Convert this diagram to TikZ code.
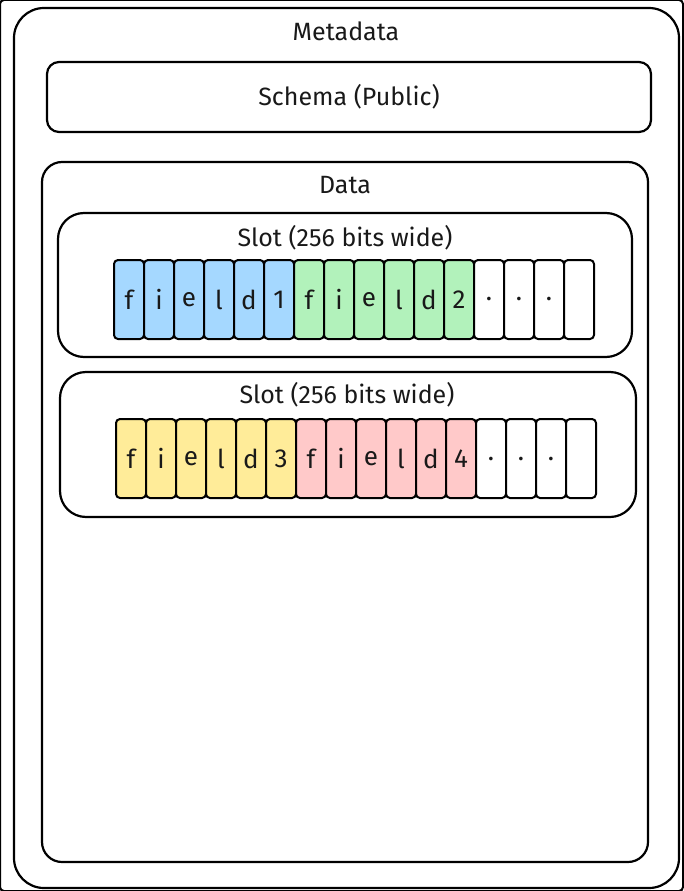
\documentclass[tikz,border=0pt]{standalone}
\usepackage{fontspec}
\setmainfont{Fira Sans}
\begin{document}
\begin{tikzpicture}[x=1pt,y=-1pt,
  box/.style={draw=black,line width=2.2pt,rounded corners=#1},
  box/.default=12pt,
  lbl/.style={font=\fontsize{25}{30}\selectfont,text=black!90},
  cell/.style={draw=black,line width=2pt,rounded corners=4pt,minimum width=30pt,minimum height=79pt,inner sep=0pt,anchor=north west,font=\fontsize{26}{30}\selectfont,text=black!90},
  blue/.style={cell,fill={rgb,255:red,165;green,216;blue,255}},
  green/.style={cell,fill={rgb,255:red,178;green,242;blue,187}},
  yellow/.style={cell,fill={rgb,255:red,255;green,236;blue,153}},
  red/.style={cell,fill={rgb,255:red,255;green,201;blue,201}},
  white/.style={cell,fill=white}]
\useasboundingbox (0,0) rectangle (683,891);
\fill[white] (0,0) rectangle (683,891);
% outer
\draw[box=30pt] (14,8) rectangle (679,888);
\node[lbl] (meta) at (346,31) {Metadata};
% schema
\draw[box=12pt] (47,62) rectangle (651,132);
\node[lbl] (schema) at (349,97) {Schema (Public)};
% data
\draw[box=20pt] (42,162) rectangle (648,862);
\node[lbl] (data) at (345,185) {Data};
% slot 1
\draw[box=26pt] (58,213) rectangle (632,357);
\node[lbl] (slot1) at (345,238) {Slot (256 bits wide)};
\foreach \t [count=\i from 0] in {f,i,e,l,d,1}
  \node[blue] (a\i) at (113+30*\i,259) {\t};
\foreach \t [count=\i from 0] in {f,i,e,l,d,2}
  \node[green] (b\i) at (293+30*\i,259) {\t};
\foreach \t [count=\i from 0] in {.,.,.,{}}
  \node[white] (c\i) at (473+30*\i,259) {\t};
% slot 2
\draw[box=26pt] (60,372) rectangle (636,517);
\node[lbl] (slot2) at (347,395) {Slot (256 bits wide)};
\foreach \t [count=\i from 0] in {f,i,e,l,d,3}
  \node[yellow] (d\i) at (115+30*\i,418) {\t};
\foreach \t [count=\i from 0] in {f,i,e,l,d,4}
  \node[red] (e\i) at (295+30*\i,418) {\t};
\foreach \t [count=\i from 0] in {.,.,.,{}}
  \node[white] (f\i) at (475+30*\i,418) {\t};
\end{tikzpicture}
\end{document}
